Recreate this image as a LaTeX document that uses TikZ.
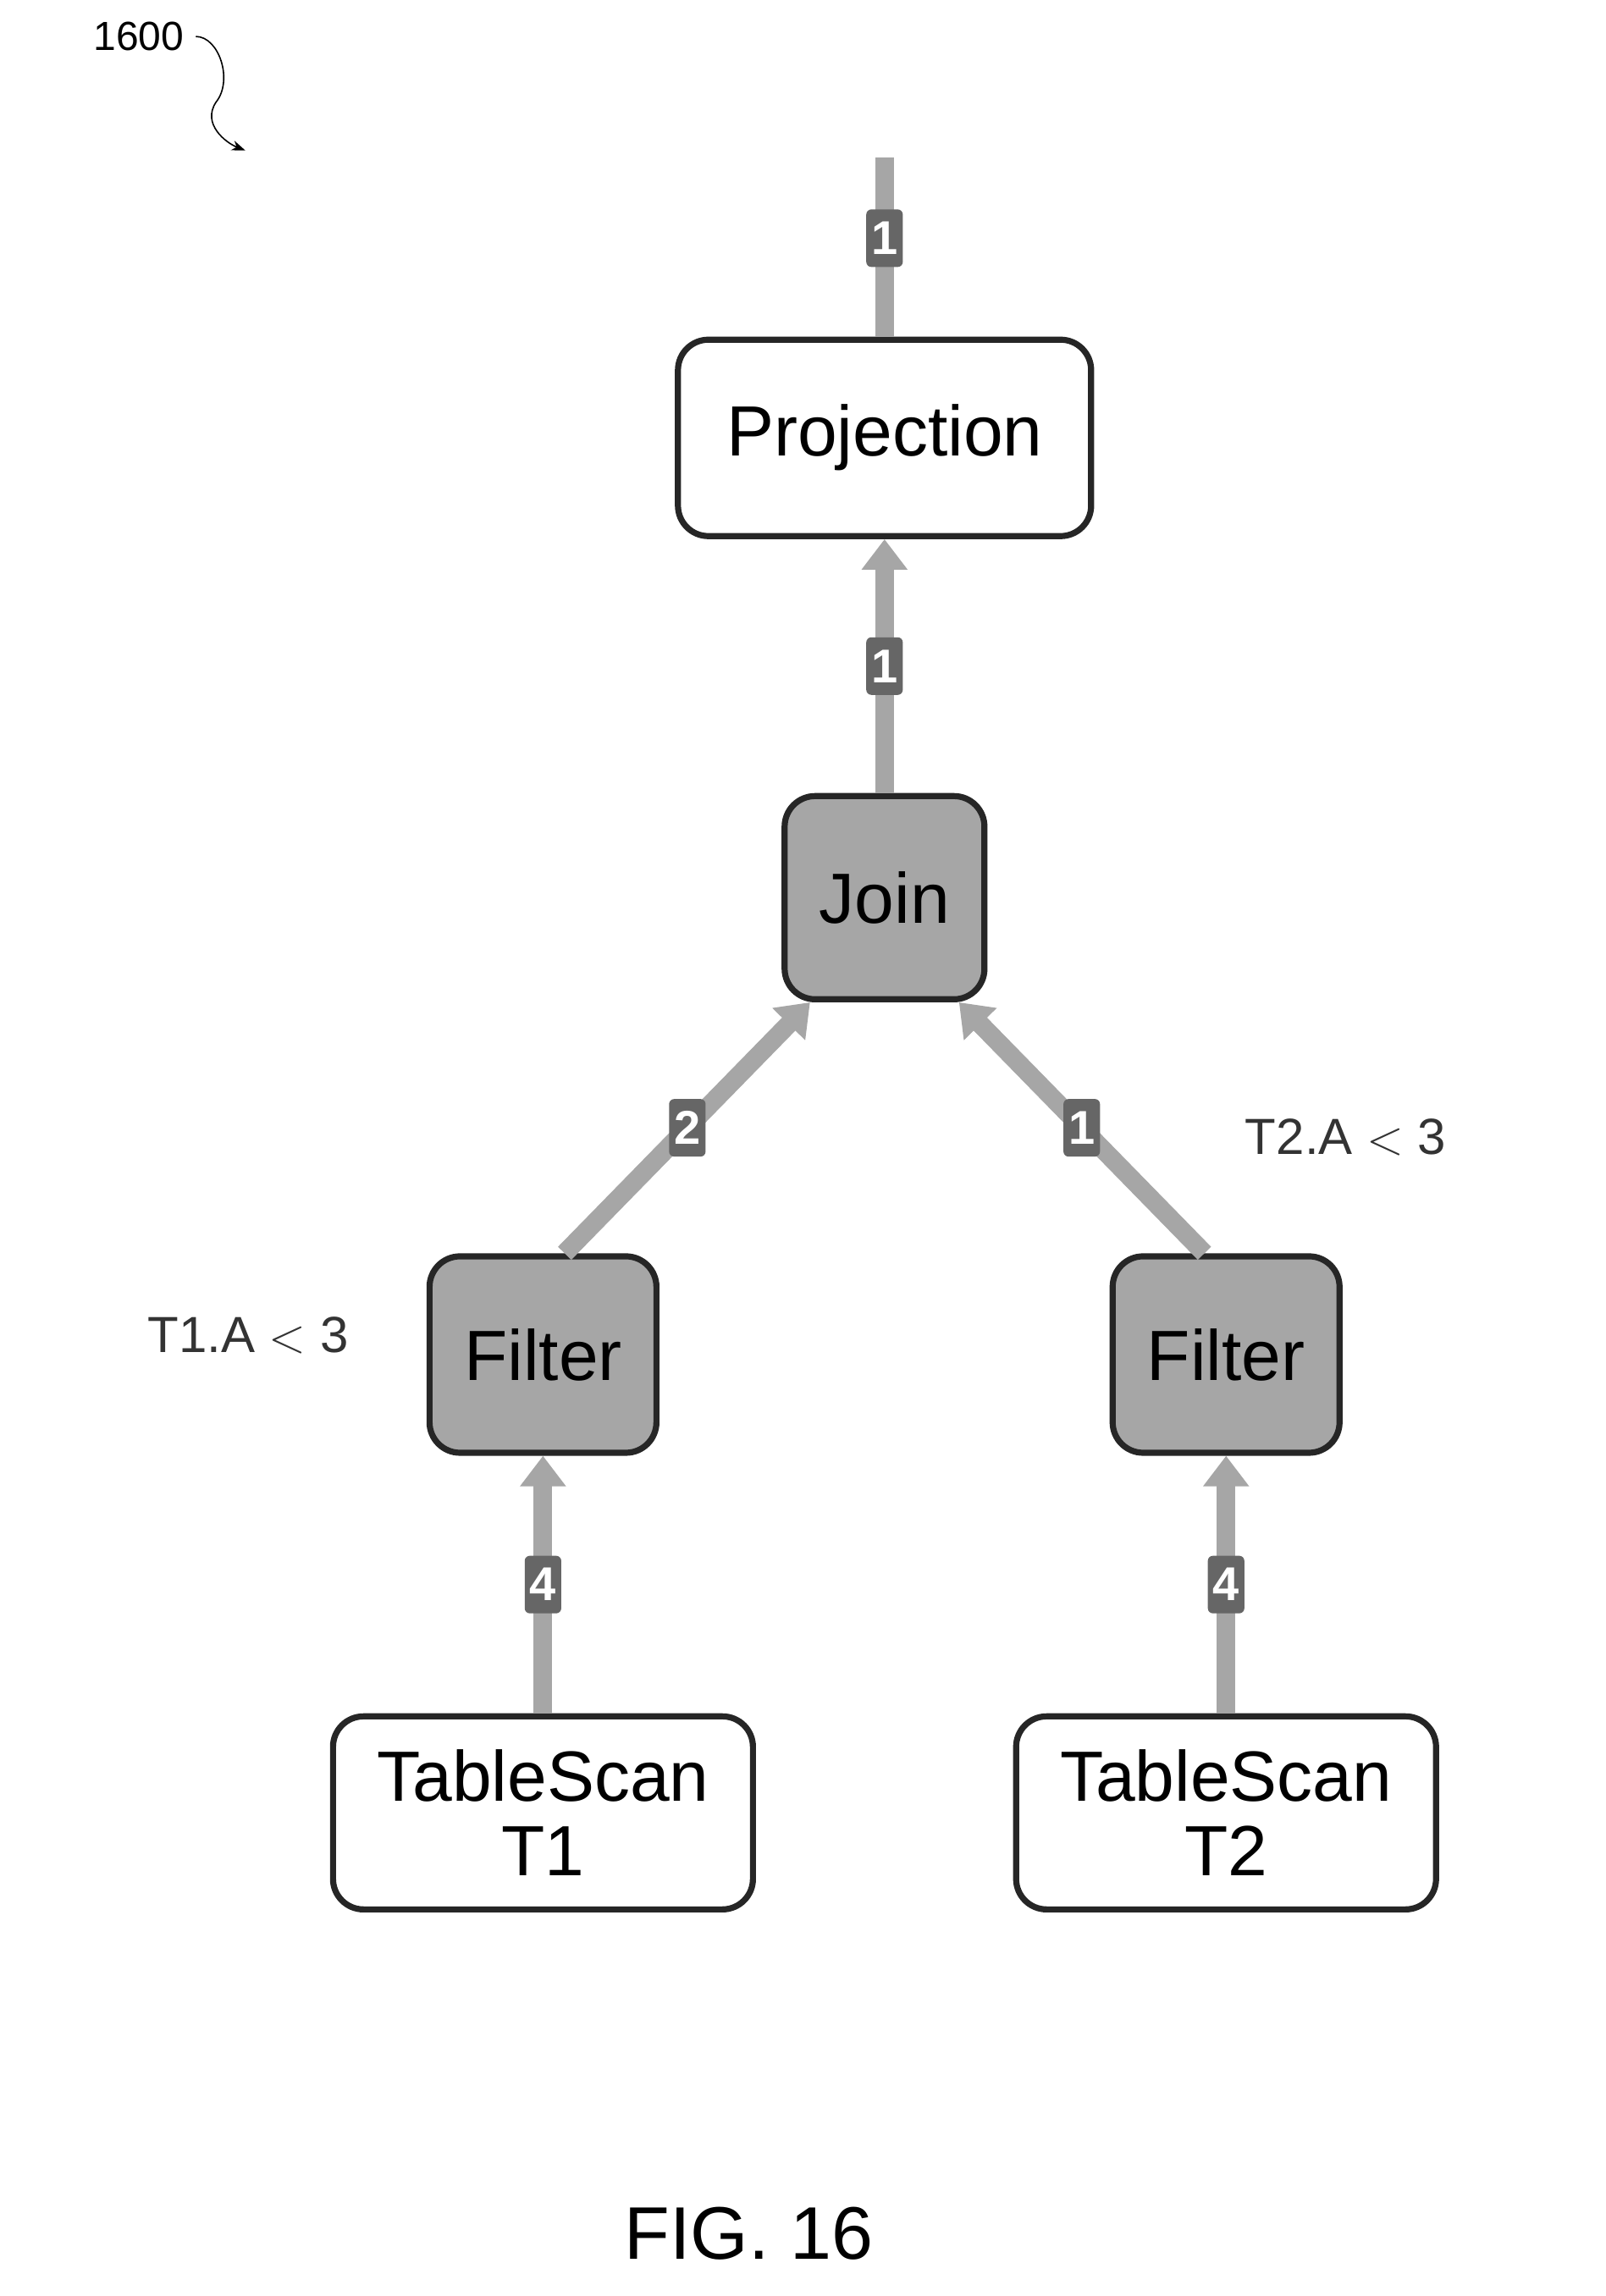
\documentclass[tikz,border=0pt]{standalone}
\usepackage{fontspec}
\setmainfont{Liberation Sans}
\usetikzlibrary{positioning, arrows.meta}

\begin{document}
\begin{tikzpicture}[x=0.431pt, y=-0.431pt,
    op/.style = {draw=black!85, line width=1.8pt, rounded corners=9pt,
                 fill=white, align=center, font=\fontsize{21}{22}\selectfont,
                 inner sep=0pt},
    hot/.style = {op, fill=black!35},
    flow/.style = {line width=5.5pt, draw=black!35, -{Triangle[length=9pt,width=13pt]}},
    badge/.style = {fill=black!60, text=white, rounded corners=1.5pt,
                    font=\bfseries\fontsize{14}{14}\selectfont, inner sep=1.5pt,
                    minimum width=10pt, minimum height=17pt},
    cond/.style = {font=\fontsize{15}{15}\selectfont, text=black!80}
    ]
    % page
    \useasboundingbox (0,0) rectangle (1100,1573);

    % operators
    \node (proj) [op, minimum width=122pt, minimum height=58pt] at (606,300) {Projection};
    \node (join) [hot, minimum width=59pt, minimum height=60pt] at (606,615) {Join};
    \node (filtl) [hot, minimum width=67pt, minimum height=58pt] at (372,928) {Filter};
    \node (filtr) [hot, minimum width=67pt, minimum height=58pt] at (840,928) {Filter};
    \node (scanl) [op, minimum width=124pt, minimum height=57pt] at (372,1242) {TableScan\\T1};
    \node (scanr) [op, minimum width=124pt, minimum height=57pt] at (840,1242) {TableScan\\T2};
    \coordinate (out) at (606,108);

    % flows
    \draw [flow, -] (proj) -- (out) node[badge, pos=0.55] {1};
    \draw [flow] (join) -- (proj) node[badge, midway] {1};
    \draw [flow] (filtl.north east) ++(-28pt,0) coordinate (fl) -- ([xshift=-22pt]join.south)
        node[badge, midway] {2};
    \draw [flow] (filtr.north west) ++(28pt,0) coordinate (fr) -- ([xshift=22pt]join.south)
        node[badge, midway] {1};
    \draw [flow] (scanl) -- (filtl) node[badge, midway] {4};
    \draw [flow] (scanr) -- (filtr) node[badge, midway] {4};

    % conditions
    \node (c1) [cond] at (170,915) {T1.A $<$ 3};
    \node (c2) [cond] at (922,779) {T2.A $<$ 3};

    % reference
    \node (ref) [font=\fontsize{12}{12}\selectfont] at (95,25) {1600};
    \draw [-{Stealth[length=4pt]}, line width=0.4pt] (ref.east) .. controls (150,25) and (160,55) .. (148,70)
        .. controls (138,85) and (155,98) .. (168,103);
    \node (fig) [font=\fontsize{22}{22}\selectfont] at (513,1530) {FIG. 16};
\end{tikzpicture}
\end{document}
